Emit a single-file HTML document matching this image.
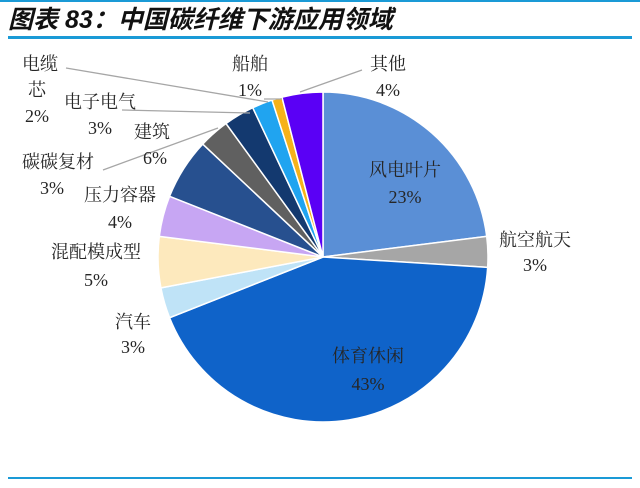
<!DOCTYPE html>
<html><head><meta charset="utf-8"><style>
body{margin:0;background:#fff;width:640px;height:488px;overflow:hidden}
svg{display:block}
.t{font-family:"Liberation Serif","Noto Serif CJK SC",serif;font-size:18px;fill:#262626;text-anchor:middle}
</style></head><body>
<svg id="s" width="640" height="488" xmlns="http://www.w3.org/2000/svg">
<rect x="0" y="0" width="640" height="2" fill="#1a9ad6"/>
<text x="8" y="28" style="font-family:'Liberation Sans','Noto Sans CJK SC',sans-serif;font-size:25px;font-weight:bold;font-style:italic;fill:#111">图表 83：中国碳纤维下游应用领域</text>
<rect x="8" y="36" width="624" height="3" fill="#1a9ad6"/>
<rect x="8" y="477" width="624" height="2" fill="#1a9ad6"/>
<g id="pie"></g>
<g stroke="#a6a6a6" stroke-width="1.3" fill="none">
<polyline points="66,68 268,102"/>
<polyline points="264,99 282,99"/>
<polyline points="362,70 300,92"/>
<polyline points="122,110 250,113"/>
<polyline points="103,170 218,128"/>
</g>
<g class="t">
<text x="40" y="70">电缆</text><text x="37" y="96">芯</text><text x="37" y="122">2%</text>
<text x="250" y="70">船舶</text><text x="250" y="96">1%</text>
<text x="388" y="70">其他</text><text x="388" y="96">4%</text>
<text x="100" y="108">电子电气</text><text x="100" y="134">3%</text>
<text x="152" y="138">建筑</text><text x="155" y="164">6%</text>
<text x="58" y="168">碳碳复材</text><text x="52" y="194">3%</text>
<text x="120" y="201">压力容器</text><text x="120" y="228">4%</text>
<text x="96" y="258">混配模成型</text><text x="96" y="286">5%</text>
<text x="133" y="328">汽车</text><text x="133" y="353">3%</text>
<text x="535" y="246">航空航天</text><text x="535" y="271">3%</text>
<text x="405" y="176">风电叶片</text><text x="405" y="203">23%</text>
<text x="368" y="362">体育休闲</text><text x="368" y="390">43%</text>
</g>
</svg>
<script>
var d=[[23,"#5a8fd6"],[3,"#a6a6a6"],[43,"#0f63c9"],[3,"#bfe3f7"],[5,"#fde9bd"],[4,"#c7a6f3"],[6,"#27508f"],[3,"#606060"],[3,"#13396f"],[2,"#20a4f0"],[1,"#f6b21a"],[4,"#5a00f5"]];
var cx=323,cy=257,r=165,a=0,g=document.getElementById("pie"),h="";
function p(t){var q=t*Math.PI/180;return (cx+r*Math.sin(q)).toFixed(2)+","+(cy-r*Math.cos(q)).toFixed(2);}
d.forEach(function(s){var b=a+s[0]*3.6;h+='<path d="M'+cx+','+cy+' L'+p(a)+' A'+r+','+r+' 0 '+(b-a>180?1:0)+' 1 '+p(b)+' Z" fill="'+s[1]+'" stroke="#fff" stroke-width="1.5"/>';a=b;});
g.innerHTML=h;
</script>
</body></html>
